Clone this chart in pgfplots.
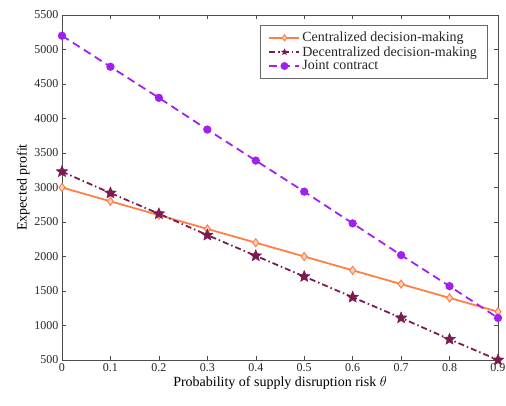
\documentclass[border=0pt]{standalone}
\usepackage{pgfplots}
\pgfplotsset{compat=1.18}
\usepackage{fontspec}
\setmainfont{Liberation Serif}
\usetikzlibrary{plotmarks}
\definecolor{cA}{RGB}{255,127,70}
\definecolor{cB}{RGB}{122,28,80}
\definecolor{cC}{RGB}{160,32,240}
\pgfdeclareplotmark{fstar}{%
  \pgfpathmoveto{\pgfqpointpolar{90}{\pgfplotmarksize}}%
  \pgfpathlineto{\pgfqpointpolar{126}{0.45\pgfplotmarksize}}%
  \pgfpathlineto{\pgfqpointpolar{162}{\pgfplotmarksize}}%
  \pgfpathlineto{\pgfqpointpolar{198}{0.45\pgfplotmarksize}}%
  \pgfpathlineto{\pgfqpointpolar{234}{\pgfplotmarksize}}%
  \pgfpathlineto{\pgfqpointpolar{270}{0.45\pgfplotmarksize}}%
  \pgfpathlineto{\pgfqpointpolar{306}{\pgfplotmarksize}}%
  \pgfpathlineto{\pgfqpointpolar{342}{0.45\pgfplotmarksize}}%
  \pgfpathlineto{\pgfqpointpolar{18}{\pgfplotmarksize}}%
  \pgfpathlineto{\pgfqpointpolar{54}{0.45\pgfplotmarksize}}%
  \pgfpathclose
  \pgfusepathqfillstroke}
\begin{document}
\begin{tikzpicture}
\path[use as bounding box] (-62pt,-45pt) rectangle (444pt,360pt);
\begin{axis}[
  scale only axis,
  width=436pt, height=345pt,
  xmin=0, xmax=0.9, ymin=500, ymax=5500,
  xtick={0,0.1,0.2,0.3,0.4,0.5,0.6,0.7,0.8,0.9},
  xticklabels={0,0.1,0.2,0.3,0.4,0.5,0.6,0.7,0.8,0.9},
  ytick={500,1000,1500,2000,2500,3000,3500,4000,4500,5000,5500},
  yticklabels={500,1000,1500,2000,2500,3000,3500,4000,4500,5000,5500},
  tick align=inside,
  major tick length=4pt,
  axis line style={draw=black!70},
  every tick/.style={black!70},
  tick label style={font=\fontsize{12}{14}\selectfont, text=black!85},
  xlabel={Probability of supply disruption risk \raisebox{0pt}{$\theta$}},
  ylabel={Expected profit},
  label style={font=\fontsize{14}{16}\selectfont},
  xlabel style={yshift=2pt},
  ylabel style={yshift=-2pt},
  legend style={at={(0.975,0.971)}, anchor=north east, draw=black!60, font=\fontsize{14}{14}\selectfont, row sep=-1pt, inner xsep=8pt, inner ysep=5pt, text=black!85},
  legend cell align=left,
  legend image code/.code={\draw[mark repeat=2,mark phase=2, mark size=3pt] plot coordinates {(0pt,0pt) (15pt,0pt) (30pt,0pt)};},
]
\addplot[cA, line width=1.8pt, mark=diamond*, mark size=4pt, mark options={fill=cA!35, draw=cA, line width=1pt, solid}] coordinates {
(0,3000) (0.1,2800) (0.2,2600) (0.3,2400) (0.4,2200) (0.5,2000) (0.6,1800) (0.7,1600) (0.8,1400) (0.9,1200)};
\addlegendentry{Centralized decision-making}
\addplot[cB, line width=1.8pt, dash pattern=on 6pt off 3pt on 1.5pt off 3pt, mark=fstar, mark size=6pt, mark options={solid, fill=cB, line width=0.5pt}] coordinates {
(0,3230) (0.1,2920) (0.2,2620) (0.3,2310) (0.4,2010) (0.5,1710) (0.6,1410) (0.7,1110) (0.8,800) (0.9,500)};
\addlegendentry{Decentralized decision-making\hspace{26pt}}
\addplot[cC, line width=1.8pt, dash pattern=on 8pt off 5pt, mark=*, mark size=3.2pt, mark options={solid, fill=cC}] coordinates {
(0,5200) (0.1,4750) (0.2,4300) (0.3,3840) (0.4,3390) (0.5,2940) (0.6,2480) (0.7,2020) (0.8,1570) (0.9,1110)};
\addlegendentry{Joint contract}
\end{axis}
\end{tikzpicture}
\end{document}
